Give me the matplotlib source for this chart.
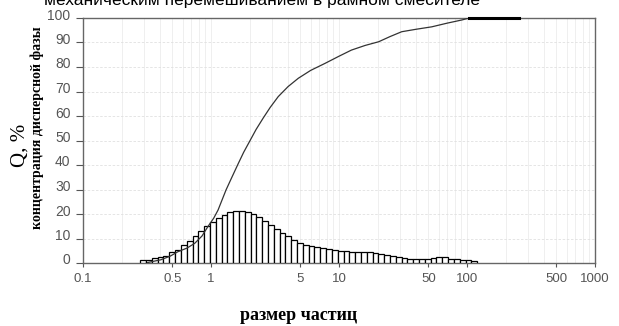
import numpy as np
import matplotlib
matplotlib.use("Agg")
import matplotlib.pyplot as plt
from matplotlib.ticker import FixedLocator, LogLocator, NullFormatter
from matplotlib.transforms import ScaledTranslation

# histogram: bar heights, % (log-spaced bins from 0.28 to 120 um)
bin_lo, bin_hi = 0.28, 120.0
bar_heights = [
    1.3, 1.4, 2.0, 2.5, 3.0, 4.3, 5.4, 7.5, 9.1, 11.2,
    13.2, 15.2, 16.9, 18.2, 19.6, 20.7, 21.1, 21.3, 20.9, 20.0,
    18.6, 17.3, 15.5, 13.9, 12.2, 10.9, 9.4, 8.2, 7.3, 6.8,
    6.4, 6.0, 5.6, 5.3, 5.0, 4.8, 4.6, 4.6, 4.5, 4.3,
    4.0, 3.8, 3.2, 2.8, 2.3, 2.0, 1.6, 1.5, 1.5, 1.6,
    2.0, 2.3, 2.3, 1.8, 1.6, 1.4, 1.2, 0.7,
]

# cumulative curve Q, %
cum_size = [0.32, 0.405, 0.48, 0.551, 0.65, 0.745, 0.85, 0.947, 1.05, 1.135,
            1.31, 1.45, 1.63, 1.8, 2.02, 2.25, 2.56, 2.9, 3.35, 4.0,
            4.81, 6.0, 7.79, 10.0, 12.5, 16.0, 20.4, 25.0, 30.9, 40.0,
            53.1, 70.0, 91.3, 104.0]
cum_q = [0.2, 1.3, 2.8, 4.6, 6.1, 8.0, 11.0, 14.9, 18.3, 21.6,
         29.8, 34.8, 40.5, 45.2, 50.0, 54.5, 59.2, 63.5, 67.9, 72.0,
         75.4, 78.6, 81.5, 84.4, 86.9, 88.8, 90.3, 92.4, 94.4, 95.4,
         96.4, 97.9, 99.2, 100.0]
plateau_size = [104.0, 256.0]
plateau_q = [100.0, 100.0]

x_ticks = [0.1, 0.5, 1, 5, 10, 50, 100, 500, 1000]
x_labels = ["0.1", "0.5", "1", "5", "10", "50", "100", "500", "1000"]
y_ticks = list(range(0, 101, 10))

title = "механическим перемешиванием в рамном смесителе"


def main():
    fig = plt.figure(figsize=(6.19, 3.26), dpi=100)
    ax = fig.add_axes([83 / 619, 1 - 263 / 326, 512 / 619, 245 / 326])

    edges = np.geomspace(bin_lo, bin_hi, len(bar_heights) + 1)
    ax.bar(edges[:-1], bar_heights, width=np.diff(edges), align="edge",
           facecolor="white", edgecolor="black", linewidth=0.9, zorder=3)

    ax.plot(cum_size, cum_q, color="#333333", linewidth=0.9, zorder=4)
    ax.plot(plateau_size, plateau_q, color="black", linewidth=2.2, zorder=5,
            clip_on=False)

    ax.set_xscale("log")
    ax.set_xlim(0.1, 1000)
    ax.set_ylim(0, 100)

    ax.xaxis.set_major_locator(FixedLocator(x_ticks))
    ax.set_xticklabels(x_labels)
    ax.xaxis.set_minor_locator(LogLocator(base=10, subs=np.arange(2, 10)))
    ax.xaxis.set_minor_formatter(NullFormatter())
    ax.set_yticks(y_ticks)

    ax.tick_params(axis="x", which="major", length=3, width=0.8, color="#555555",
                   labelcolor="#555555", labelsize=9.5, pad=4)
    ax.tick_params(axis="x", which="minor", length=0)
    ax.tick_params(axis="y", length=5, width=0.8, color="#555555",
                   labelcolor="#555555", labelsize=10, pad=4)
    for lab in ax.get_xticklabels() + ax.get_yticklabels():
        lab.set_family("Liberation Sans")
    for lab in ax.get_yticklabels():
        lab.set_transform(lab.get_transform() +
                          ScaledTranslation(0, 4 / 100, fig.dpi_scale_trans))

    ax.grid(True, which="both", axis="x", color="#ececec", linewidth=0.6, zorder=0)
    ax.grid(True, which="major", axis="y", color="#e0e0e0", linewidth=0.6,
            linestyle=(0, (3, 2)), zorder=0)

    for side in ["left", "bottom", "right", "top"]:
        ax.spines[side].set_color("#666666")
        ax.spines[side].set_linewidth(1.0)

    # title line is cut by the top edge, as in the scanned source
    fig.text(262 / 619, 1 - 5 / 326, title, ha="center", va="baseline",
             fontsize=12.5, family="Liberation Sans")
    fig.text(20 / 619, 1 - 145 / 326, "Q, %", rotation=90, ha="center", va="center",
             fontsize=15, family="Liberation Serif")
    fig.text(37 / 619, 1 - 128 / 326, "концентрация дисперсной фазы", rotation=90,
             ha="center", va="center", fontsize=10, fontweight="bold",
             family="Liberation Serif")
    fig.text(299 / 619, 1 - 316 / 326, "размер частиц", ha="center", va="center",
             fontsize=13, fontweight="bold", family="Liberation Serif")

    fig.savefig("out.png", dpi=100)


if __name__ == "__main__":
    main()
